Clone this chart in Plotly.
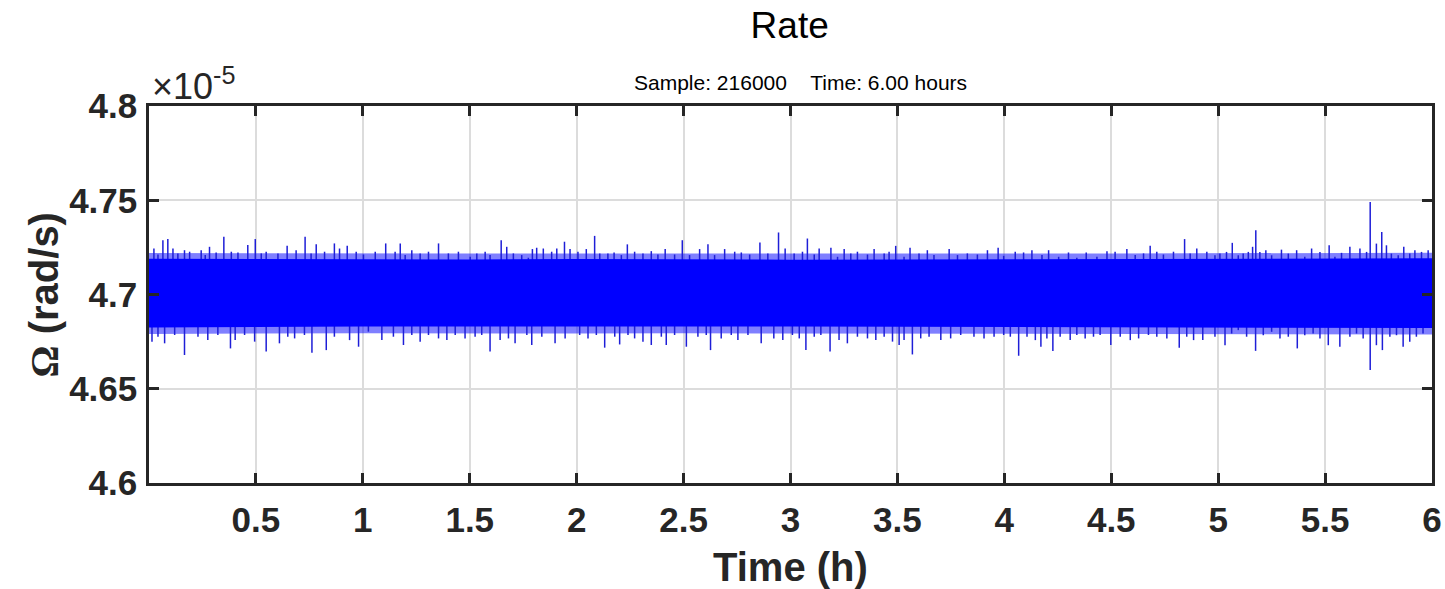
import plotly.graph_objects as go

# Values are in units of 1e-5 rad/s (axis shows x10^-5), time in hours
core_t = [0.0, 0.5, 1.0, 1.5, 2.0, 2.5, 3.0, 3.5, 4.0, 4.5, 5.0, 5.5, 6.0]
core_hi = [4.7190, 4.7188, 4.7185, 4.7186, 4.7188, 4.7186, 4.7185, 4.7186, 4.7187, 4.7186, 4.7188, 4.7190, 4.7192]
core_lo = [4.6825, 4.6828, 4.6830, 4.6830, 4.6828, 4.6830, 4.6830, 4.6828, 4.6830, 4.6828, 4.6826, 4.6824, 4.6822]
# fuzzy outer edge of the dense band
fuzz_hi = [4.7220, 4.7218, 4.7216, 4.7217, 4.7218, 4.7217, 4.7216, 4.7216, 4.7217, 4.7217, 4.7219, 4.7221, 4.7222]
fuzz_lo = [4.6790, 4.6793, 4.6795, 4.6795, 4.6793, 4.6794, 4.6795, 4.6793, 4.6794, 4.6793, 4.6791, 4.6789, 4.6788]

up_t = [0.023, 0.042, 0.065, 0.088, 0.112, 0.135, 0.166, 0.190, 0.244, 0.263, 0.283, 0.314, 0.350, 0.385,
        0.416, 0.462, 0.497, 0.525, 0.548, 0.603, 0.646, 0.688, 0.730, 0.758, 0.782, 0.821, 0.867, 0.891,
        0.927, 0.969,
        1.003, 1.058, 1.107, 1.151, 1.175, 1.198, 1.229, 1.268, 1.307, 1.354, 1.400, 1.447, 1.502, 1.533,
        1.572, 1.595, 1.647, 1.673, 1.704, 1.743, 1.774, 1.793, 1.813, 1.844, 1.883, 1.907, 1.943, 1.969,
        2.006, 2.045, 2.084, 2.108, 2.146, 2.175, 2.209, 2.237, 2.271, 2.310, 2.349, 2.380, 2.414, 2.458,
        2.494, 2.528, 2.575, 2.614, 2.645, 2.692, 2.739, 2.770, 2.809, 2.857, 2.894, 2.944, 2.975,
        3.017, 3.056, 3.079, 3.111, 3.134, 3.189, 3.220, 3.251, 3.282, 3.313, 3.360, 3.391, 3.438, 3.461,
        3.492, 3.531, 3.559, 3.601, 3.640, 3.671, 3.742, 3.781, 3.827, 3.874, 3.921, 3.971,
        3.997, 4.051, 4.090, 4.129, 4.176, 4.207, 4.254, 4.300, 4.339, 4.383, 4.433, 4.480, 4.518, 4.573,
        4.612, 4.651, 4.682, 4.713, 4.744, 4.791, 4.843, 4.869, 4.900, 4.947,
        4.985, 5.008, 5.039, 5.066, 5.094, 5.117, 5.141, 5.161, 5.176, 5.195, 5.223, 5.250, 5.296, 5.328,
        5.367, 5.405, 5.437, 5.476, 5.519, 5.546, 5.577, 5.616, 5.663, 5.694, 5.711, 5.740, 5.765, 5.787,
        5.810, 5.842, 5.868, 5.896, 5.920, 5.951, 5.982]
up_v = [4.7244, 4.7212, 4.7288, 4.7294, 4.7244, 4.7218, 4.7235, 4.7227, 4.7235, 4.7209, 4.7253, 4.7223, 4.7306, 4.7227,
        4.7223, 4.7262, 4.7294, 4.7218, 4.7227, 4.7218, 4.7258, 4.7235, 4.7306, 4.7218, 4.7266, 4.7227, 4.7271, 4.7244,
        4.7258, 4.7227,
        4.7212, 4.7227, 4.7271, 4.7227, 4.7271, 4.7209, 4.7235, 4.7218, 4.7227, 4.7271, 4.7218, 4.7227, 4.7200, 4.7218,
        4.7227, 4.7209, 4.7288, 4.7253, 4.7218, 4.7209, 4.7195, 4.7241, 4.7248, 4.7244, 4.7227, 4.7244, 4.7280, 4.7241,
        4.7227, 4.7241, 4.7311, 4.7218, 4.7218, 4.7223, 4.7209, 4.7266, 4.7227, 4.7218, 4.7230, 4.7212, 4.7241, 4.7212,
        4.7288, 4.7209, 4.7241, 4.7266, 4.7209, 4.7241, 4.7227, 4.7223, 4.7212, 4.7276, 4.7218, 4.7329, 4.7244,
        4.7218, 4.7227, 4.7297, 4.7212, 4.7244, 4.7248, 4.7200, 4.7241, 4.7218, 4.7227, 4.7212, 4.7241, 4.7218, 4.7227,
        4.7258, 4.7200, 4.7248, 4.7218, 4.7235, 4.7209, 4.7241, 4.7209, 4.7218, 4.7212, 4.7235, 4.7248,
        4.7205, 4.7227, 4.7223, 4.7235, 4.7209, 4.7235, 4.7200, 4.7223, 4.7195, 4.7223, 4.7200, 4.7230, 4.7227, 4.7241,
        4.7209, 4.7218, 4.7258, 4.7227, 4.7212, 4.7227, 4.7294, 4.7218, 4.7244, 4.7227,
        4.7208, 4.7217, 4.7226, 4.7274, 4.7208, 4.7217, 4.7226, 4.7253, 4.7341, 4.7226, 4.7235, 4.7208, 4.7238, 4.7217,
        4.7235, 4.7200, 4.7244, 4.7226, 4.7261, 4.7200, 4.7221, 4.7253, 4.7244, 4.7226, 4.7491, 4.7270, 4.7332, 4.7261,
        4.7217, 4.7208, 4.7253, 4.7217, 4.7235, 4.7226, 4.7235]

dn_t = [0.014, 0.042, 0.073, 0.120, 0.166, 0.229, 0.275, 0.322, 0.381, 0.403, 0.447, 0.494, 0.548, 0.610,
        0.649, 0.681, 0.727, 0.762, 0.829, 0.867, 0.938, 0.980,
        1.026, 1.089, 1.143, 1.190, 1.229, 1.268, 1.307, 1.354, 1.393, 1.432, 1.478, 1.525, 1.556, 1.595,
        1.642, 1.681, 1.712, 1.767, 1.790, 1.837, 1.899, 1.946,
        2.014, 2.053, 2.092, 2.131, 2.178, 2.201, 2.240, 2.271, 2.310, 2.349, 2.396, 2.419, 2.458, 2.513,
        2.567, 2.606, 2.626, 2.676, 2.723, 2.754, 2.801, 2.863, 2.922, 2.964,
        3.009, 3.041, 3.072, 3.111, 3.142, 3.185, 3.227, 3.266, 3.313, 3.360, 3.399, 3.438, 3.477, 3.508,
        3.531, 3.570, 3.609, 3.648, 3.703, 3.749, 3.796, 3.858, 3.905, 3.952,
        3.997, 4.028, 4.067, 4.106, 4.145, 4.171, 4.199, 4.227, 4.261, 4.308, 4.339, 4.378, 4.417, 4.448,
        4.498, 4.542, 4.589, 4.628, 4.674, 4.713, 4.760, 4.818, 4.853, 4.885, 4.928,
        4.985, 5.008, 5.032, 5.063, 5.094, 5.133, 5.175, 5.211, 5.250, 5.289, 5.328, 5.370, 5.405, 5.444,
        5.476, 5.515, 5.569, 5.616, 5.647, 5.678, 5.711, 5.740, 5.768, 5.803, 5.834, 5.865, 5.896, 5.927,
        5.958]
dn_v = [4.6750, 4.6776, 4.6741, 4.6785, 4.6679, 4.6776, 4.6758, 4.6785, 4.6714, 4.6758, 4.6785, 4.6750, 4.6697, 4.6741,
        4.6776, 4.6767, 4.6785, 4.6691, 4.6705, 4.6776, 4.6758, 4.6723,
        4.6803, 4.6758, 4.6776, 4.6732, 4.6785, 4.6750, 4.6785, 4.6767, 4.6758, 4.6785, 4.6767, 4.6776, 4.6785, 4.6697,
        4.6758, 4.6767, 4.6741, 4.6785, 4.6732, 4.6776, 4.6741, 4.6767,
        4.6785, 4.6767, 4.6785, 4.6718, 4.6776, 4.6735, 4.6785, 4.6767, 4.6750, 4.6732, 4.6776, 4.6732, 4.6785, 4.6723,
        4.6776, 4.6785, 4.6705, 4.6767, 4.6785, 4.6758, 4.6785, 4.6741, 4.6767, 4.6758,
        4.6785, 4.6767, 4.6705, 4.6776, 4.6785, 4.6697, 4.6758, 4.6741, 4.6776, 4.6767, 4.6758, 4.6776, 4.6750, 4.6732,
        4.6758, 4.6682, 4.6767, 4.6776, 4.6758, 4.6767, 4.6785, 4.6776, 4.6767, 4.6776,
        4.6785, 4.6776, 4.6675, 4.6776, 4.6758, 4.6723, 4.6767, 4.6700, 4.6776, 4.6758, 4.6785, 4.6767, 4.6776, 4.6785,
        4.6732, 4.6776, 4.6758, 4.6767, 4.6785, 4.6776, 4.6767, 4.6718, 4.6776, 4.6758, 4.6758,
        4.6776, 4.6829, 4.6731, 4.6793, 4.6811, 4.6776, 4.6701, 4.6784, 4.6802, 4.6767, 4.6776, 4.6714, 4.6784, 4.6793,
        4.6767, 4.6731, 4.6723, 4.6776, 4.6793, 4.6767, 4.6599, 4.6731, 4.6705, 4.6776, 4.6784, 4.6723, 4.6749, 4.6776,
        4.6793]

x_ticks = [0.5, 1, 1.5, 2, 2.5, 3, 3.5, 4, 4.5, 5, 5.5, 6]
x_ticklabels = ["0.5", "1", "1.5", "2", "2.5", "3", "3.5", "4", "4.5", "5", "5.5", "6"]
y_ticks = [4.6, 4.65, 4.7, 4.75, 4.8]
y_ticklabels = ["4.6", "4.65", "4.7", "4.75", "4.8"]
center_v = 4.70

FONT = "Liberation Sans, Arial, Helvetica, sans-serif"
BLUE = "#0000FF"
DARK = "#262626"

fig = go.Figure()

# fuzzy edge of the band (semi-dense)
fig.add_trace(go.Scatter(
    x=core_t + core_t[::-1], y=fuzz_hi + fuzz_lo[::-1],
    fill="toself", fillcolor="rgba(0,0,255,0.5)", line=dict(width=0), mode="lines",
    hoverinfo="skip", showlegend=False))

# spikes (the dense band covers their inner part)
sx, sy = [], []
for t, v in zip(up_t, up_v):
    sx += [t, t, None]
    sy += [center_v, v, None]
for t, v in zip(dn_t, dn_v):
    sx += [t, t, None]
    sy += [center_v, v, None]
fig.add_trace(go.Scatter(x=sx, y=sy, mode="lines",
                         line=dict(color="rgb(30,30,215)", width=1.5),
                         hoverinfo="skip", showlegend=False))

# dense core band
fig.add_trace(go.Scatter(
    x=core_t + core_t[::-1], y=core_hi + core_lo[::-1],
    fill="toself", fillcolor=BLUE, line=dict(width=0), mode="lines",
    hoverinfo="skip", showlegend=False))

axis_common = dict(
    showline=True, linecolor=DARK, linewidth=2.5, mirror="ticks",
    ticks="inside", ticklen=10, tickwidth=2.5, tickcolor=DARK,
    showgrid=True, gridcolor="#dcdcdc", gridwidth=2.2, zeroline=False,
    automargin=False,
    tickfont=dict(family=FONT, size=35, color=DARK, weight="bold"),
)

fig.update_xaxes(range=[0, 6], tickvals=x_ticks, ticktext=x_ticklabels,
                 ticklabelstandoff=4, **axis_common)
fig.update_yaxes(range=[4.6, 4.8], tickvals=y_ticks, ticktext=y_ticklabels,
                 ticklabelstandoff=2, **axis_common)

fig.update_layout(
    width=1445, height=589,
    margin=dict(l=149, r=13, t=106, b=106),
    paper_bgcolor="white", plot_bgcolor="white",
    title=dict(text="Rate", x=0.5465, xanchor="center", y=0.957, yanchor="middle",
               font=dict(family=FONT, size=37, color="black")),
    annotations=[
        dict(text="Sample: 216000&nbsp;&nbsp;&nbsp;&nbsp;Time: 6.00 hours", xref="paper", yref="paper",
             x=0.5, y=1, yanchor="bottom", xshift=10, yshift=10, showarrow=False,
             font=dict(family=FONT, size=21, color="black")),
        dict(text="×10<sup>-5</sup>", xref="paper", yref="paper", x=0, y=1,
             xanchor="left", yanchor="bottom", xshift=1, yshift=-3, showarrow=False,
             font=dict(family=FONT, size=36, color=DARK)),
        dict(text="<b>Time (h)</b>", xref="paper", yref="paper", x=0.5, y=-0.2228,
             xanchor="center", yanchor="middle", showarrow=False,
             font=dict(family=FONT, size=40, color=DARK)),
        dict(text="<b><span style=\"font-family:'Liberation Serif',serif\">Ω</span> (rad/s)</b>",
             xref="paper", yref="paper", x=-0.0811, y=0.5, textangle=-90,
             xanchor="center", yanchor="middle", showarrow=False,
             font=dict(family=FONT, size=40, color=DARK)),
    ],
)

fig.write_html("out.html", config={"displayModeBar": False},
               post_script="document.body.style.margin='0';")
